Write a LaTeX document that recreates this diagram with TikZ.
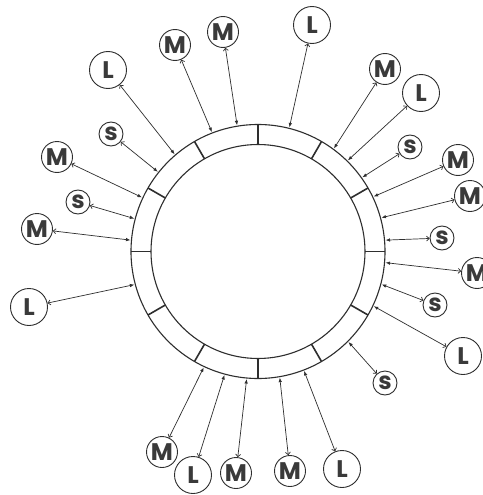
\documentclass[tikz,border=0pt]{standalone}
\usepackage{fontspec}
\setmainfont{Poppins}
\usetikzlibrary{arrows.meta}
\definecolor{ink}{HTML}{2E2E2E}
\definecolor{txt}{HTML}{3A3A3A}
\tikzset{
  ringline/.style={draw=ink, line width=1.1pt},
  divline/.style={draw=ink, line width=1.6pt},
  pend/.style={circle, draw=ink, line width=0.9pt, inner sep=0pt, text=txt,
    font=\fontsize{24}{24}\selectfont\bfseries},
  smallp/.style={pend, minimum size=24pt},
  midp/.style={pend, minimum size=31pt},
  largep/.style={pend, minimum size=37pt},
  conn/.style={draw=ink, line width=0.7pt,
    {Straight Barb[length=2.5pt,width=5pt]}-{Latex[length=4.5pt,width=3.5pt]}}
}
\begin{document}
\begin{tikzpicture}[x=1pt,y=-1pt]
\useasboundingbox[fill=white] (0,0) rectangle (482,495);
\coordinate (c) at (258,251.5);
\draw[ringline] (c) circle[radius=127];
\draw[ringline] (c) circle[radius=107];
\foreach \a in {0,30,...,330}
  \draw[divline] ([shift={(c)}]\a:107) -- ([shift={(c)}]\a:127);

% pendants: name, position, style, letter, ring angle
\foreach \n/\x/\y/\s/\l/\ang in {
  1/108/70/largep/L/130.6,
  2/175/45/midp/M/111.1,
  3/223/32/midp/M/99.4,
  4/312/25/largep/L/75.8,
  5/385/69/midp/M/53.6,
  6/421/93/largep/L/45.4,
  7/410/147/smallp/s/35.4,
  8/458/160/midp/M/25.4,
  9/470/196/midp/M/15.3,
  10/442/238/smallp/s/5.1,
  11/477/273/midp/M/-5.0,
  12/435/305/smallp/s/-14.9,
  13/463/356/largep/L/-25.3,
  14/385/383/smallp/s/-45,
  15/342/469/largep/L/-68.9,
  16/290/471/midp/M/-80.2,
  17/236/473/midp/M/-95.1,
  18/193/475/largep/L/-105.2,
  19/162/452/midp/M/-115.1,
  20/29/307/largep/L/195,
  21/37/229/midp/M/174.9,
  22/78/202/smallp/s/165.1,
  23/57/157/midp/M/155,
  24/111/134/smallp/s/141.5}
{
  \node[\s] (p\n) at (\x,\y) {\l};
  \coordinate (r\n) at ([shift={(c)}]-\ang:128);
  \draw[conn] (p\n) -- (r\n);
}
\end{tikzpicture}
\end{document}
